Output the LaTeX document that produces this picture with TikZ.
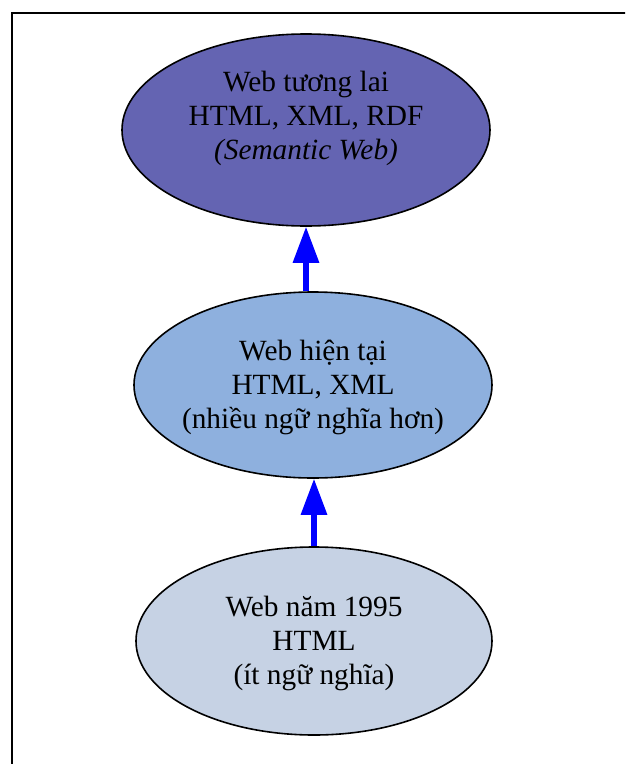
\documentclass[tikz,border=0pt]{standalone}
\usepackage{fontspec}
\setmainfont{Liberation Serif}
\usetikzlibrary{shapes.geometric,arrows.meta}
\definecolor{futurefill}{RGB}{100,100,178}
\definecolor{presentfill}{RGB}{142,176,222}
\definecolor{pastfill}{RGB}{198,210,228}
\tikzset{
  era/.style={ellipse, draw=black, line width=1.2pt, inner sep=0pt},
  eratext/.style={align=center, font=\fontsize{22}{25.5}\selectfont},
  uparrow/.style={draw={rgb,255:red,0;green,0;blue,255}, line width=3.8pt,
    -{Triangle[length=27pt,width=19pt]}, shorten >=0pt}
}
\begin{document}
\begin{tikzpicture}[x=0.75pt,y=-0.75pt]
  \useasboundingbox (0,0) rectangle (625,764);
  \clip (0,0) rectangle (625,764);
  % outer frame, running past the right and bottom edges
  \draw[line width=1.6pt] (12,13) rectangle (660,800);

  % the three stages of the web
  \node[era, fill=futurefill, minimum width=276pt, minimum height=144pt] (future) at (306,130) {};
  \node[era, fill=presentfill, minimum width=268.5pt, minimum height=139.5pt] (present) at (313,385) {};
  \node[era, fill=pastfill, minimum width=267pt, minimum height=141pt] (past) at (314,641) {};

  \node[eratext] (futuretext) at (306,118) {Web tương lai\\HTML, XML, RDF\\\textit{(Semantic Web)}};
  \node[eratext] (presenttext) at (313,387) {Web hiện tại\\HTML, XML\\(nhiều ngữ nghĩa hơn)};
  \node[eratext] (pasttext) at (314,643) {Web năm 1995\\HTML\\(ít ngữ nghĩa)};

  % evolution arrows, both vertical
  \draw[uparrow] (future.south |- present.north) -- (future.south);
  \draw[uparrow] (past.north) -- (past.north |- present.south);
\end{tikzpicture}
\end{document}
